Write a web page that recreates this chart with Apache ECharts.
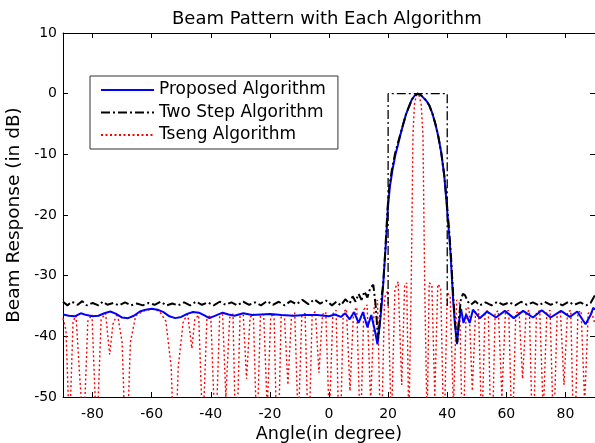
<!DOCTYPE html>
<html>
<head>
<meta charset="utf-8">
<script src="https://cdn.jsdelivr.net/npm/echarts@6/dist/echarts.min.js"></script>
<style>
  html, body { margin: 0; padding: 0; background: #fff; }
  #chart { width: 595px; height: 443px; }
</style>
</head>
<body>
<div id="chart"></div>
<script>
// series names
const names = ['Proposed Algorithm', 'Two Step Algorithm', 'Tseng Algorithm'];

// x tick labels
const xTicks = [-80, -60, -40, -20, 0, 20, 40, 60, 80];

// proposed algorithm: [angle, dB]
const proposed = [
  [-90, -36.4], [-88, -36.6], [-86, -36.7], [-84, -36.2], [-82, -36.5], [-80, -36.7],
  [-78, -36.6], [-76, -36.2], [-74, -35.9], [-72, -36.3], [-70, -36.9], [-68, -37.0],
  [-66, -36.6], [-64, -35.9], [-62, -35.6], [-60, -35.45], [-58, -35.6], [-56, -36.0],
  [-54, -36.7], [-52, -37.0], [-50, -36.8], [-48, -36.3], [-46, -36.0], [-44, -36.1],
  [-42, -36.6], [-40.5, -37.0], [-38, -36.5], [-36, -36.1], [-34, -36.4], [-32, -36.6],
  [-29, -36.2], [-26, -36.5], [-23, -36.4], [-20, -36.3], [-16, -36.5], [-12, -36.6],
  [-8, -36.5], [-4, -36.5], [0, -36.7], [2, -36.4], [4, -36.8], [5.5, -36.2],
  [7, -37.2], [8.5, -36.0], [10, -37.8], [11.5, -36.0], [13, -38.5], [14.3, -36.5],
  [15.5, -39], [16.4, -41.3], [17.2, -38], [17.8, -35], [18.4, -31], [18.8, -28],
  [19.4, -23.5], [19.9, -19], [20.6, -15.3], [21.5, -12.5], [22.5, -10], [23.3, -8.5],
  [24, -7.1], [25, -5.2], [26, -3.5], [27, -2.2], [28, -1.0], [29, -0.3], [30, 0],
  [31, -0.2], [32, -0.7], [33, -1.2], [34, -2.0], [35, -3.3], [36, -5.0], [37, -7.1],
  [38, -9.8], [39, -13.5], [39.6, -17], [40.2, -20.5], [40.7, -23.5], [41.2, -27],
  [41.6, -30.5], [42, -34], [42.6, -38], [43.3, -41.3], [44, -37.5], [44.7, -35.5],
  [45.5, -37.8], [46.4, -36.4], [47.6, -37.8], [48.7, -35.6], [51, -37.0], [53.5, -35.9],
  [56.5, -36.9], [59.5, -35.8], [62.5, -37.0], [65.7, -35.8], [69, -36.9], [72, -35.7],
  [75, -36.9], [78.5, -35.8], [81.5, -36.8], [84, -35.9], [86.8, -38.0], [88.5, -36.5],
  [89.4, -35.3], [90, -35.6]
];

// two step algorithm: [angle, dB]
const twoStep = [
  [-90, -34.3], [-88.5, -34.9], [-87, -34.3], [-85, -34.8], [-83.5, -34.2], [-82, -34.9],
  [-80, -34.5], [-78, -34.9], [-76.5, -34.3], [-75, -34.8], [-73, -34.5], [-71, -34.9],
  [-69, -34.4], [-67, -34.9], [-65, -34.6], [-63, -34.9], [-61, -34.5], [-59, -34.8],
  [-57, -34.3], [-55, -34.9], [-53, -34.6], [-51, -34.9], [-49, -34.4], [-47, -34.9],
  [-45, -34.3], [-43, -34.8], [-41, -34.4], [-39, -34.9], [-37, -34.3], [-35, -34.8],
  [-33, -34.4], [-31, -34.9], [-29, -34.3], [-27, -34.8], [-25, -34.4], [-23, -34.9],
  [-21, -34.2], [-19, -34.8], [-17, -34.3], [-15, -34.9], [-13, -34.2], [-11, -34.7],
  [-9, -34.0], [-7, -34.7], [-5, -33.9], [-3, -34.6], [-1, -34.1], [1, -34.9],
  [2.5, -34.3], [4, -34.9], [5.5, -33.9], [7, -34.6], [8, -33.4], [9, -34.3],
  [10, -33.0], [11, -34.0], [12, -32.6], [13, -33.6], [14, -32.0], [15, -31.5],
  [15.8, -35], [16.6, -40.5], [17.3, -37], [17.9, -33], [18.2, -32], [18.5, -30],
  [18.9, -27], [19.3, -23.5], [19.8, -19], [20.4, -15.3], [21.3, -12.5], [22.3, -10],
  [23.1, -8.5], [23.9, -7.1], [25, -5.2], [26, -3.5], [27, -2.2], [28, -1.0],
  [29, -0.3], [30, 0], [31, -0.2], [32, -0.7], [33, -1.2], [34, -2.0], [35, -3.3],
  [36, -5.0], [37, -7.1], [38, -9.8], [39, -13.5], [39.7, -17], [40.3, -20.5],
  [40.8, -23.5], [41.3, -27], [41.7, -30.5], [42.1, -34], [42.7, -38], [43.4, -41],
  [44.0, -37], [44.6, -34], [45.3, -33], [46, -33.2], [47, -34.3], [48, -34.8],
  [49.5, -34.2], [51, -34.9], [53, -34.4], [55, -34.9], [57, -34.3], [59, -34.8],
  [61, -34.4], [63, -34.9], [65, -34.3], [67, -34.8], [69, -34.4], [71, -34.9],
  [73, -34.3], [75, -34.8], [77, -34.4], [79, -34.9], [81, -34.3], [83, -34.8],
  [85, -34.4], [87, -34.9], [88.5, -34.5], [89.3, -33.8], [90, -33.2]
];

// desired main beam box drawn with the two step style
const mask = [[20, -35], [20, 0], [40, 0], [40, -35]];

// tseng algorithm: [angle, dB]
const tseng = [
  [-90, -37], [-89, -39], [-87.8, -56], [-86.6, -37.5], [-85.6, -36.6], [-84.3, -47],
  [-83, -56], [-81.6, -37.5], [-80.2, -36.4], [-78.6, -57], [-77.1, -37.2], [-75.6, -36.2],
  [-74.2, -43], [-73.1, -38], [-71.6, -36.2], [-70, -41], [-68.6, -62], [-67.2, -41],
  [-65.4, -36.6], [-62.5, -35.8], [-60, -35.5], [-57.5, -35.8], [-55.2, -37.5], [-53.4, -45],
  [-52.2, -62], [-51, -45], [-49.3, -37.5], [-47.8, -36.4], [-46.4, -42], [-45.4, -37.2],
  [-44.1, -36.5], [-42.7, -56], [-41.3, -37], [-40, -36.5], [-38.4, -58], [-37, -36.8],
  [-36, -36.4], [-34.9, -50], [-33.6, -36.9], [-32.5, -36.3], [-31.4, -61], [-30.1, -36.7],
  [-29, -36.5], [-27.9, -47], [-26.7, -36.9], [-25.6, -36.3], [-24.4, -57], [-23.2, -36.6],
  [-22.1, -36.4], [-20.9, -52], [-19.7, -36.8], [-18.6, -36.2], [-17.4, -63], [-16.2, -36.7],
  [-15.1, -36.5], [-13.9, -48], [-12.7, -36.8], [-11.6, -36.1], [-10.4, -55], [-9.2, -36.6],
  [-8.1, -36.2], [-6.9, -59], [-5.7, -36.5], [-4.6, -35.9], [-3.4, -46], [-2.2, -36.4],
  [-1.1, -36.0], [0.1, -54], [1.3, -36.3], [2.4, -35.7], [3.6, -62], [4.8, -36.1],
  [5.9, -35.5], [7.1, -49], [8.3, -36.0], [9.4, -35.2], [10.6, -57], [11.8, -35.6],
  [12.9, -34.8], [14.1, -51], [15.3, -35.0], [16.4, -34.0], [17.6, -60], [18.8, -33.6],
  [19.9, -32.5], [21.1, -55], [22.3, -32.2], [23.4, -31.0], [24.6, -48], [25.6, -31.5],
  [26.3, -31.2], [27.0, -55], [27.8, -32], [28.1, -20], [28.4, -7], [28.9, -1.8],
  [29.5, -0.4], [30, 0], [30.5, -0.4], [31.2, -1.8], [31.8, -7], [32.1, -20],
  [32.4, -32], [33.2, -55], [33.9, -31.2], [34.8, -31.5], [35.8, -50], [36.8, -31.4],
  [37.8, -32], [38.9, -58], [40.0, -32.8], [41.0, -33.4], [42.1, -52], [43.2, -34],
  [44.2, -34.6], [45.3, -61], [46.4, -35.2], [47.4, -35.4], [48.5, -49], [49.6, -35.8],
  [50.6, -35.6], [51.7, -56], [52.8, -36.0], [53.9, -35.7], [55.0, -63], [56.2, -36.1],
  [57.3, -35.8], [58.5, -50], [59.7, -36.0], [60.8, -35.7], [62.0, -58], [63.2, -36.2],
  [64.3, -35.8], [65.5, -47], [66.7, -36.1], [67.8, -35.7], [69.0, -60], [70.2, -36.0],
  [71.3, -35.8], [72.5, -53], [73.7, -36.1], [74.8, -35.7], [76.0, -57], [77.2, -36.2],
  [78.3, -35.8], [79.5, -48], [80.7, -36.0], [81.8, -35.7], [83.0, -62], [84.2, -36.1],
  [85.3, -35.8], [86.5, -51], [87.7, -36.2], [88.8, -35.9], [90, -38]
];

const font = 'DejaVu Sans';
const chart = echarts.init(document.getElementById('chart'), null, { renderer: 'canvas' });

const tickStyle = { inside: true, length: 5, lineStyle: { color: '#000' } };
const axisLineStyle = { show: true, onZero: false, lineStyle: { color: '#000', width: 1 } };

chart.setOption({
  animation: false,
  backgroundColor: '#fff',
  title: {
    text: 'Beam Pattern with Each Algorithm',
    left: 167,
    top: 5,
    textStyle: { fontFamily: font, fontSize: 18, fontWeight: 'normal', color: '#000' }
  },
  legend: {
    orient: 'vertical',
    left: 90,
    top: 76,
    padding: [4, 12, 4, 10],
    itemWidth: 53,
    itemHeight: 20,
    itemGap: 2.5,
    backgroundColor: '#fff',
    borderColor: '#333',
    borderWidth: 1,
    itemStyle: { opacity: 0 },
    textStyle: { fontFamily: font, fontSize: 17, color: '#000', lineHeight: 20 },
    data: names
  },
  grid: { left: 63, right: 0, top: 33, bottom: 46, outerBoundsMode: 'none' },
  xAxis: [
    {
      type: 'value', min: -90, max: 90, position: 'bottom',
      name: 'Angle(in degree)', nameLocation: 'middle', nameGap: 26,
      nameTextStyle: { fontFamily: font, fontSize: 17.5, color: '#000' },
      axisLine: axisLineStyle,
      axisTick: Object.assign({ customValues: xTicks }, tickStyle),
      axisLabel: { customValues: xTicks, margin: 10, fontFamily: font, fontSize: 14, color: '#000' },
      splitLine: { show: false }
    },
    {
      type: 'value', min: -90, max: 90, position: 'top',
      axisLine: axisLineStyle,
      axisTick: Object.assign({ customValues: xTicks }, tickStyle),
      axisLabel: { show: false },
      splitLine: { show: false }
    }
  ],
  yAxis: [
    {
      type: 'value', min: -50, max: 10, interval: 10, position: 'left',
      name: 'Beam Response (in dB)', nameLocation: 'middle', nameGap: 38,
      nameTextStyle: { fontFamily: font, fontSize: 18.5, color: '#000' },
      axisLine: axisLineStyle,
      axisTick: tickStyle,
      axisLabel: { margin: 6, fontFamily: font, fontSize: 14, color: '#000' },
      splitLine: { show: false }
    },
    {
      type: 'value', min: -50, max: 10, interval: 10, position: 'right',
      axisLine: axisLineStyle,
      axisTick: tickStyle,
      axisLabel: { show: false },
      splitLine: { show: false }
    }
  ],
  series: [
    {
      name: names[0], type: 'line', data: proposed, symbol: 'none', z: 3,
      lineStyle: { color: '#0000ff', width: 2 }, itemStyle: { color: '#0000ff' }
    },
    {
      name: names[1], type: 'line', data: twoStep, symbol: 'none', z: 4,
      lineStyle: { color: '#000', width: 2, type: [9, 3, 2, 3] }, itemStyle: { color: '#000' }
    },
    {
      name: 'mask', type: 'line', data: mask, symbol: 'none', z: 4,
      lineStyle: { color: '#000', width: 1.3, type: [9, 3, 2, 3] }
    },
    {
      name: names[2], type: 'line', data: tseng, symbol: 'none', z: 2,
      lineStyle: { color: '#ff0000', width: 1.4, type: [2, 2.5] }, itemStyle: { color: '#ff0000' }
    }
  ]
});
</script>
</body>
</html>
